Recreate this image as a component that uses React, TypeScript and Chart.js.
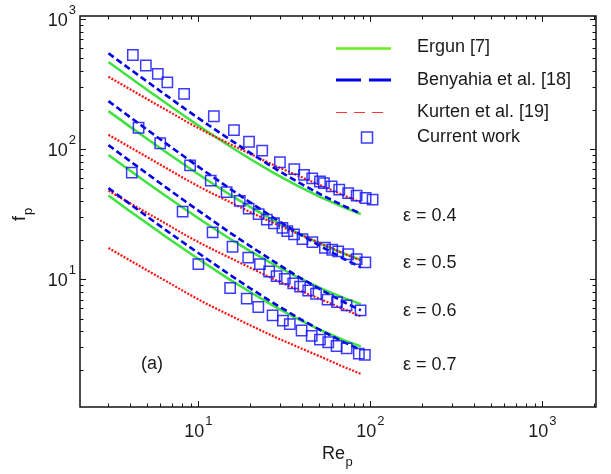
import React, { useEffect, useRef } from 'react';
import { Chart, registerables } from 'chart.js';

Chart.register(...registerables);

// ---- data ----
const LINE_RE = [3, 4, 5, 6.5, 8.5, 11, 15, 20, 28, 38, 52, 70, 88];

const ERGUN_04 = [468, 355, 287, 225, 176, 139.5, 106.6, 84.1, 64.7, 52, 42.4, 35.7, 31.7];
const ERGUN_05 = [196, 149, 120.7, 94.6, 74.2, 59.1, 45.4, 36, 27.9, 22.6, 18.6, 15.8, 14.1];
const ERGUN_06 = [90.2, 68.5, 55.5, 43.5, 34.1, 27.1, 20.8, 16.5, 12.8, 10.34, 8.5, 7.21, 6.45];
const ERGUN_07 = [44, 33.4, 27.1, 21.2, 16.6, 13.2, 10.1, 8, 6.15, 4.95, 4.05, 3.42, 3.05];

const BENY_04 = [545, 412, 333, 259, 201, 158.8, 120.2, 93.6, 70.8, 55.8, 44.6, 36.7, 32.0];
const BENY_05 = [234, 176.6, 142.2, 110.4, 85.5, 67.1, 50.5, 39, 29.2, 22.7, 17.8, 14.4, 12.4];
const BENY_06 = [107.4, 81.1, 65.3, 50.7, 39.3, 30.9, 23.2, 18, 13.5, 10.5, 8.27, 6.7, 5.79];
const BENY_07 = [50.2, 37.95, 30.6, 23.8, 18.5, 14.6, 11, 8.55, 6.45, 5.07, 4.03, 3.3, 2.87];

const KURT_04 = [360, 289, 244, 200, 163, 135.6, 110.8, 91.9, 74.5, 62.6, 52.4, 44.2, 39];
const KURT_05 = [129, 103.5, 87.4, 71.6, 58.4, 48.5, 39.7, 32.9, 26.7, 22.4, 18.8, 15.8, 14.0];
const KURT_06 = [48, 38.5, 32.5, 26.7, 21.7, 18.1, 14.8, 12.3, 9.9, 8.3, 7.0, 5.9, 5.2];
const KURT_07 = [17.4, 14.0, 11.8, 9.7, 7.9, 6.55, 5.35, 4.44, 3.6, 3.02, 2.53, 2.13, 1.88];

const CUR_04_RE = [4.16, 4.95, 5.81, 6.6, 8.26, 12.3, 16.1, 19.7, 23.5, 29.8, 36.1, 41.1, 45.9, 50.9, 53.7, 59.5, 65.9, 74.3, 83.2, 93.8, 103];
const CUR_04_F = [529, 439, 379, 326, 266, 179, 140, 114, 97.5, 79.4, 70.3, 63.5, 59.7, 56.5, 54.8, 51.8, 48.9, 46.0, 44.0, 42.2, 41.0];
const CUR_05_RE = [4.49, 6.0, 8.95, 11.8, 14.6, 17.4, 19.6, 22.4, 25.0, 27.5, 30.8, 32.9, 36.0, 40.3, 46.0, 54.4, 60.0, 65.0, 74.3, 83.2, 93.5];
const CUR_05_F = [146, 111, 75.2, 57.3, 46.8, 40.1, 34.9, 31.7, 28.8, 27.0, 24.9, 23.5, 22.2, 20.4, 19.3, 17.5, 16.9, 16.4, 15.6, 14.3, 13.5];
const CUR_06_RE = [4.1, 8.1, 12.1, 15.8, 19.5, 22.8, 25.8, 28.5, 31.8, 35.6, 39.0, 43.5, 48.3, 56.4, 64, 72.7, 87.7];
const CUR_06_F = [66.1, 33.1, 23.0, 17.8, 14.7, 13.1, 11.5, 10.6, 10.1, 9.33, 8.81, 8.22, 7.76, 6.99, 6.68, 6.32, 5.79];
const CUR_07_RE = [10.0, 15.3, 19.1, 22.3, 27.0, 31.0, 34.0, 39.8, 45.6, 50.9, 56.9, 63.6, 72.8, 85.7, 92.9];
const CUR_07_F = [13.1, 8.59, 7.11, 6.14, 5.30, 4.83, 4.53, 4.05, 3.68, 3.45, 3.29, 3.08, 2.95, 2.69, 2.63];

const X_MIN = 2.05;
const X_MAX = 2050;
const Y_MIN = 1.047;
const Y_MAX = 1054;
const DECADES = [1, 10, 100, 1000];
const X_TICK_LABELS = [
  { v: 10, base: '10', exp: '1' },
  { v: 100, base: '10', exp: '2' },
  { v: 1000, base: '10', exp: '3' },
];
const Y_TICK_LABELS = [
  { v: 10, base: '10', exp: '1' },
  { v: 100, base: '10', exp: '2' },
  { v: 1000, base: '10', exp: '3' },
];
const LEGEND_LABELS = ['Ergun [7]', 'Benyahia et al. [18]', 'Kurten et al. [19]', 'Current work'];
const EPS_LABELS = ['ε = 0.4', 'ε = 0.5', 'ε = 0.6', 'ε = 0.7'];
const EPS_VALUES = [30.8, 13.3, 5.74, 2.21];
const PANEL_LABEL = '(a)';
const X_TITLE = { main: 'Re', sub: 'p' };
const Y_TITLE = { main: 'f', sub: 'p' };

const FONT = '"Liberation Sans", Arial, Helvetica, sans-serif';
const TEXT = '#1a1a1a';
const GREEN = '#3fe23f';
const BLUE = '#0000e8';
const RED = '#ff1010';
const SQ = 'rgba(25,25,255,0.85)';

const pts = (xs: number[], ys: number[]) => xs.map((x, i) => ({ x, y: ys[i] }));

const lineDs = (data: number[], kind: 'g' | 'b' | 'r') => {
  const base: any = {
    type: 'line',
    data: pts(LINE_RE, data),
    pointRadius: 0,
    fill: false,
    tension: 0,
    order: 2,
  };
  if (kind === 'g') return { ...base, borderColor: GREEN, borderWidth: 2.5 };
  if (kind === 'b') return { ...base, borderColor: BLUE, borderWidth: 2.6, borderDash: [6.5, 3.5], order: 1 };
  return { ...base, borderColor: RED, borderWidth: 2.2, borderDash: [2, 1.5], order: 1.5 };
};

const sqDs = (xs: number[], ys: number[]) => ({
  type: 'scatter',
  data: pts(xs, ys),
  pointStyle: 'rect',
  pointRadius: 7.3,
  pointBorderWidth: 1.5,
  pointBorderColor: SQ,
  pointBackgroundColor: 'rgba(0,0,0,0)',
  showLine: false,
  order: 0,
});

const decorPlugin = {
  id: 'decor',
  afterDraw(chart: any) {
    const { ctx, chartArea: a, scales } = chart;
    const xs = scales.x;
    const ys = scales.y;
    ctx.save();
    // frame
    ctx.strokeStyle = '#111';
    ctx.lineWidth = 1.5;
    ctx.strokeRect(a.left, a.top, a.right - a.left, a.bottom - a.top);
    ctx.lineWidth = 1;
    const seg = (x1: number, y1: number, x2: number, y2: number) => {
      ctx.beginPath();
      ctx.moveTo(x1, y1);
      ctx.lineTo(x2, y2);
      ctx.stroke();
    };
    for (const d of DECADES) {
      for (let m = 1; m <= 9; m++) {
        const v = m * d;
        const len = m === 1 ? 6 : 3.5;
        if (v >= X_MIN && v <= X_MAX) {
          const p = Math.round(xs.getPixelForValue(v)) + 0.5;
          seg(p, a.bottom, p, a.bottom - len);
          seg(p, a.top, p, a.top + len);
        }
        if (v >= Y_MIN && v <= Y_MAX) {
          const p = Math.round(ys.getPixelForValue(v)) + 0.5;
          seg(a.left, p, a.left + len, p);
          seg(a.right, p, a.right - len, p);
        }
      }
    }
    ctx.fillStyle = TEXT;
    const big = `18px ${FONT}`;
    const small = `13px ${FONT}`;
    // x tick labels
    ctx.textBaseline = 'alphabetic';
    for (const t of X_TICK_LABELS) {
      const p = xs.getPixelForValue(t.v);
      ctx.font = big;
      const wb = ctx.measureText(t.base).width;
      ctx.font = small;
      const we = ctx.measureText(t.exp).width;
      const x0 = p - (wb + we + 1) / 2;
      ctx.font = big;
      ctx.textAlign = 'left';
      ctx.fillText(t.base, x0, a.bottom + 30);
      ctx.font = small;
      ctx.fillText(t.exp, x0 + wb + 1, a.bottom + 18);
    }
    // y tick labels
    for (const t of Y_TICK_LABELS) {
      let p = ys.getPixelForValue(t.v);
      if (p < a.top + 3) p = a.top + 3;
      ctx.font = small;
      const we = ctx.measureText(t.exp).width;
      ctx.textAlign = 'right';
      ctx.fillText(t.exp, a.left - 4, p - 5);
      ctx.font = big;
      ctx.fillText(t.base, a.left - 5 - we, p + 6.5);
    }
    // axis titles
    ctx.textAlign = 'left';
    ctx.font = big;
    const wRe = ctx.measureText(X_TITLE.main).width;
    const xt = 322;
    ctx.fillText(X_TITLE.main, xt, 459);
    ctx.font = small;
    ctx.fillText(X_TITLE.sub, xt + wRe + 0.5, 466);
    ctx.save();
    ctx.translate(25, 221);
    ctx.rotate(-Math.PI / 2);
    ctx.font = big;
    const wf = ctx.measureText(Y_TITLE.main).width;
    ctx.fillText(Y_TITLE.main, 0, 0);
    ctx.font = small;
    ctx.fillText(Y_TITLE.sub, wf + 1, 7);
    ctx.restore();
    // epsilon labels
    ctx.font = big;
    ctx.textBaseline = 'middle';
    EPS_LABELS.forEach((s, i) => {
      const y = ys.getPixelForValue(EPS_VALUES[i]);
      ctx.fillText(s, 403, y);
    });
    ctx.fillText(PANEL_LABEL, 141, 364);
    // legend
    const lx1 = 336;
    const lx2 = 391;
    const rows = [47.5, 80, 112.5, 137.5];
    ctx.lineCap = 'butt';
    ctx.strokeStyle = '#66ee1a';
    ctx.lineWidth = 2.5;
    ctx.setLineDash([]);
    seg(lx1, rows[0] + 1, lx2, rows[0] + 1);
    ctx.strokeStyle = BLUE;
    ctx.lineWidth = 3;
    ctx.setLineDash([25, 8]);
    seg(lx1, rows[1], lx2, rows[1]);
    ctx.strokeStyle = '#ff3535';
    ctx.lineWidth = 1.2;
    ctx.setLineDash([11, 7]);
    seg(lx1, rows[2], lx2 - 5, rows[2]);
    ctx.setLineDash([]);
    ctx.strokeStyle = SQ;
    ctx.lineWidth = 1.5;
    ctx.strokeRect(361.5, rows[3] - 5.5, 11, 11);
    ctx.fillStyle = TEXT;
    ctx.font = big;
    LEGEND_LABELS.forEach((s, i) => ctx.fillText(s, 417, rows[i]));
    ctx.restore();
  },
};

export default function App() {
  const ref = useRef<HTMLCanvasElement>(null);
  useEffect(() => {
    document.body.style.margin = '0';
    const canvas = ref.current;
    if (!canvas) return;
    const chart = new Chart(canvas, {
      type: 'line',
      data: {
        datasets: [
          sqDs(CUR_04_RE, CUR_04_F),
          sqDs(CUR_05_RE, CUR_05_F),
          sqDs(CUR_06_RE, CUR_06_F),
          sqDs(CUR_07_RE, CUR_07_F),
          lineDs(BENY_04, 'b'),
          lineDs(BENY_05, 'b'),
          lineDs(BENY_06, 'b'),
          lineDs(BENY_07, 'b'),
          lineDs(KURT_04, 'r'),
          lineDs(KURT_05, 'r'),
          lineDs(KURT_06, 'r'),
          lineDs(KURT_07, 'r'),
          lineDs(ERGUN_04, 'g'),
          lineDs(ERGUN_05, 'g'),
          lineDs(ERGUN_06, 'g'),
          lineDs(ERGUN_07, 'g'),
        ] as any,
      },
      options: {
        responsive: false,
        animation: false,
        devicePixelRatio: 1,
        layout: { padding: { left: 80, right: 15, top: 16, bottom: 67 } },
        scales: {
          x: { type: 'logarithmic', min: X_MIN, max: X_MAX, display: false },
          y: { type: 'logarithmic', min: Y_MIN, max: Y_MAX, display: false },
        },
        plugins: {
          legend: { display: false },
          tooltip: { enabled: false },
        },
      } as any,
      plugins: [decorPlugin],
    });
    return () => chart.destroy();
  }, []);
  return (
    <div style={{ width: 611, height: 474, background: '#fff' }}>
      <canvas ref={ref} width={611} height={474} style={{ display: 'block' }} />
    </div>
  );
}
